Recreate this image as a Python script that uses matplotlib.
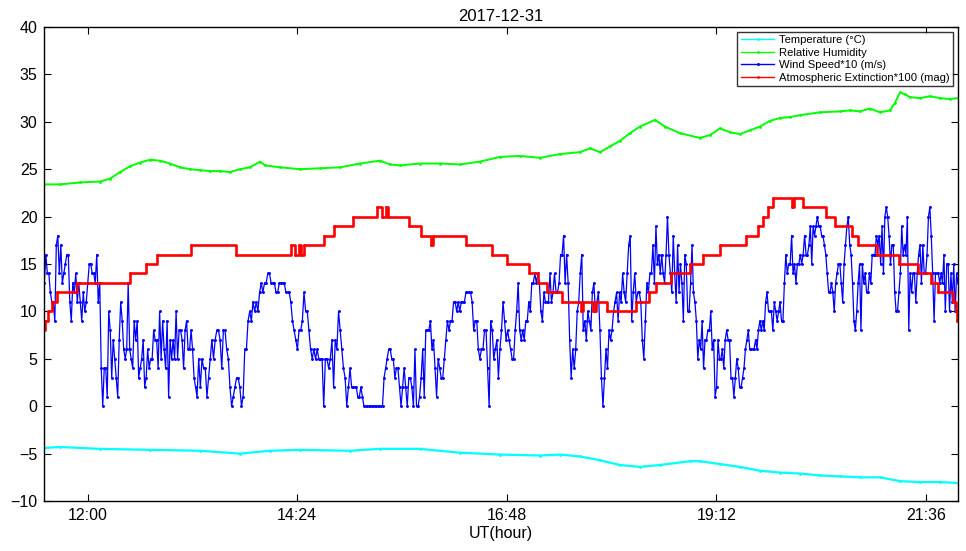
import numpy as np
import matplotlib
matplotlib.use("Agg")
import matplotlib.pyplot as plt
from matplotlib.ticker import FixedLocator, FuncFormatter

plt.rcParams['font.family'] = ['Liberation Sans', 'DejaVu Sans']

# time axis in decimal UT hours
x_start, x_end = 11.505, 21.968
tick_hours = [12.0, 14.4, 16.8, 19.2, 21.6]

# temperature (deg C)
temp_hours = [11.505, 11.685, 12.143, 12.715, 13.288, 13.746, 14.089, 14.433, 15.006,
              15.349, 15.807, 16.265, 16.723, 17.181, 17.410, 17.639, 17.868, 18.097,
              18.326, 18.555, 18.899, 19.013, 19.242, 19.471, 19.700, 19.929, 20.158,
              20.387, 20.616, 20.845, 21.074, 21.303, 21.532, 21.761, 21.968]
temp_values = [-4.4, -4.3, -4.5, -4.6, -4.7, -5.0, -4.7, -4.6, -4.7,
               -4.5, -4.5, -4.9, -5.1, -5.2, -5.1, -5.3, -5.7, -6.2,
               -6.4, -6.2, -5.8, -5.8, -6.1, -6.4, -6.8, -7.0, -7.1,
               -7.3, -7.4, -7.5, -7.5, -7.9, -8.0, -8.0, -8.1]

# relative humidity (%)
hum_hours = [11.505, 11.685, 11.914, 12.143, 12.257, 12.372, 12.486, 12.601, 12.715,
             12.830, 12.944, 13.059, 13.173, 13.288, 13.402, 13.517, 13.631, 13.746,
             13.860, 13.975, 14.032, 14.204, 14.433, 14.662, 14.891, 15.120, 15.349,
             15.463, 15.578, 15.807, 16.036, 16.265, 16.494, 16.723, 16.952, 17.181,
             17.410, 17.639, 17.754, 17.868, 17.983, 18.097, 18.212, 18.326, 18.498,
             18.612, 18.784, 19.013, 19.127, 19.242, 19.356, 19.471, 19.585, 19.700,
             19.815, 19.929, 20.044, 20.158, 20.387, 20.616, 20.731, 20.845, 20.960,
             21.074, 21.189, 21.246, 21.303, 21.361, 21.418, 21.532, 21.647, 21.761,
             21.876, 21.968]
hum_values = [23.4, 23.4, 23.6, 23.7, 24.0, 24.7, 25.3, 25.7, 26.0,
              25.9, 25.6, 25.2, 25.0, 24.9, 24.8, 24.8, 24.7, 25.0,
              25.2, 25.8, 25.4, 25.2, 25.0, 25.1, 25.2, 25.6, 25.9,
              25.5, 25.4, 25.6, 25.6, 25.5, 25.8, 26.3, 26.4, 26.2,
              26.6, 26.8, 27.2, 26.8, 27.4, 28.0, 28.8, 29.5, 30.2,
              29.5, 28.8, 28.3, 28.6, 29.3, 28.9, 28.7, 29.1, 29.5,
              30.1, 30.4, 30.5, 30.7, 31.0, 31.1, 31.2, 31.1, 31.4,
              31.0, 31.2, 32.0, 33.1, 32.9, 32.6, 32.5, 32.7, 32.5,
              32.4, 32.5]

# wind speed *10 (m/s), logged in six blocks between these times
wind_block_edges = [11.505, 13.254, 15.006, 16.758, 18.509, 20.261, 21.968]
wind_block1 = [13, 16, 14, 14, 12, 11, 11, 9, 17, 18, 14, 17, 13, 14, 15, 16, 16, 11, 9, 13,
               12, 14, 11, 13, 11, 9, 12, 10, 11, 13, 15, 15, 14, 14, 13, 16, 11, 13, 4, 0,
               4, 4, 1, 10, 8, 3, 7, 5, 3, 1, 7, 11, 9, 6, 5, 6, 13, 6, 5, 4,
               9, 7, 9, 3, 4, 5, 7, 2, 3, 6, 4, 5, 5, 8, 7, 7, 4, 10, 5, 9,
               6, 4, 9, 1, 7, 5, 7, 5, 10, 5, 8, 8, 7, 4, 8, 9, 6, 6, 8, 6,
               3, 2, 1]
wind_block2 = [5, 2, 5, 4, 4, 1, 3, 5, 7, 5, 7, 8, 8, 7, 4, 8, 8, 6, 5, 2,
               0, 1, 2, 3, 3, 2, 0, 1, 6, 6, 9, 10, 9, 11, 10, 11, 10, 12, 13, 12,
               13, 13, 14, 14, 13, 13, 13, 12, 12, 13, 13, 13, 13, 12, 12, 12, 11, 9, 8, 7,
               6, 8, 8, 9, 12, 10, 10, 8, 6, 5, 6, 5, 6, 5, 5, 5, 0, 5, 5, 4,
               5, 7, 2, 7, 6, 10, 8, 6, 4, 3, 0, 2, 4]
wind_block3 = [2, 2, 2, 2, 1, 1, 2, 1, 0, 0, 0, 0, 0, 0, 0, 0, 0, 0, 0, 0,
               0, 3, 4, 5, 6, 6, 5, 5, 3, 4, 4, 2, 0, 2, 4, 2, 0, 3, 3, 2,
               0, 6, 0, 0, 1, 3, 6, 1, 8, 8, 8, 9, 6, 7, 4, 1, 5, 4, 3, 3,
               5, 7, 9, 8, 9, 9, 11, 11, 10, 11, 10, 11, 11, 11, 12, 12, 12, 12, 11, 8,
               9, 9, 6, 5, 6, 6, 8, 8, 4, 0, 9, 8, 5, 6, 7, 3, 6, 8, 11]
wind_block4 = [9, 7, 8, 7, 6, 5, 5, 8, 10, 13, 8, 7, 8, 7, 9, 9, 11, 10, 13, 13,
               14, 13, 14, 13, 10, 9, 12, 11, 11, 11, 14, 11, 12, 14, 12, 12, 13, 16, 16, 18,
               13, 16, 13, 7, 3, 6, 4, 6, 10, 11, 14, 16, 8, 9, 7, 10, 9, 8, 12, 13,
               10, 11, 12, 8, 3, 0, 3, 6, 4, 8, 7, 8, 10, 11, 12, 9, 12, 11, 14, 12,
               11, 14, 17, 18, 9, 12, 14, 11, 12, 12, 11, 7, 5, 9, 13, 12, 14, 14, 17, 13,
               19]
wind_block5 = [15, 16, 14, 16, 14, 13, 16, 20, 16, 14, 12, 18, 14, 11, 17, 12, 15, 13, 9, 16,
               15, 10, 10, 13, 17, 12, 11, 9, 5, 7, 6, 9, 4, 7, 7, 8, 8, 10, 6, 7,
               1, 2, 7, 5, 5, 6, 4, 7, 8, 7, 7, 3, 3, 1, 3, 5, 4, 2, 2, 3,
               4, 6, 7, 8, 6, 6, 6, 6, 7, 6, 8, 9, 8, 9, 8, 11, 12, 10, 10, 10,
               8, 11, 10, 9, 10, 11, 9, 9, 13, 16, 14, 15, 15, 18, 14, 15, 13, 15, 15, 16,
               15, 16, 18, 16, 16, 17]
wind_block6 = [19, 15, 19, 18, 19, 20, 19, 19, 18, 18, 17, 16, 14, 12, 12, 13, 12, 10, 13, 14,
               15, 15, 13, 11, 15, 17, 19, 20, 17, 16, 13, 9, 8, 10, 13, 15, 8, 15, 13, 14,
               12, 12, 14, 13, 16, 16, 16, 18, 17, 18, 15, 19, 14, 20, 21, 20, 18, 15, 17, 17,
               12, 10, 10, 12, 14, 19, 16, 17, 16, 20, 8, 14, 12, 14, 14, 11, 14, 16, 17, 13,
               17, 14, 14, 16, 20, 21, 18, 14, 9, 14, 14, 14, 13, 14, 13, 16, 10, 15, 15, 10,
               14, 11, 15, 10, 14, 13]

# atmospheric extinction *100 (mag), held until the next change
ext_hours = [11.505, 11.513, 11.547, 11.593, 11.650, 11.879, 12.486, 12.669, 12.795, 13.185,
             13.700, 14.330, 14.375, 14.421, 14.444, 14.479, 14.708, 14.822, 15.040, 15.315,
             15.372, 15.418, 15.441, 15.681, 15.819, 15.933, 15.956, 16.334, 16.632, 16.804,
             17.056, 17.159, 17.262, 17.433, 17.651, 17.674, 17.788, 17.823, 17.949, 18.281,
             18.430, 18.510, 18.682, 18.899, 19.048, 19.243, 19.540, 19.678, 19.735, 19.793,
             19.850, 20.068, 20.091, 20.194, 20.457, 20.560, 20.755, 20.824, 21.041, 21.293,
             21.511, 21.660, 21.740, 21.912, 21.947, 21.957, 21.968]
ext_values = [8, 9, 10, 11, 12, 13, 14, 15, 16, 17,
              16, 17, 16, 17, 16, 17, 18, 19, 20, 21,
              20, 21, 20, 19, 18, 17, 18, 17, 16, 15,
              14, 13, 12, 11, 10, 11, 10, 11, 10, 11,
              12, 13, 14, 15, 16, 17, 18, 19, 20, 21,
              22, 21, 22, 21, 20, 19, 18, 17, 16, 15,
              14, 13, 12, 11, 10, 9, 9]

# rebuild the wind time stamps block by block
wind_blocks = [wind_block1, wind_block2, wind_block3, wind_block4, wind_block5, wind_block6]
wind_hours, wind_values = [], []
for i, blk in enumerate(wind_blocks):
    t0, t1 = wind_block_edges[i], wind_block_edges[i + 1]
    if i == 0:
        t = np.linspace(t0, t1, len(blk))
    else:
        t = np.linspace(t0, t1, len(blk) + 1)[1:]
    wind_hours.extend(t)
    wind_values.extend(blk)

fig = plt.figure(figsize=(9.66, 5.51), dpi=100)
ax = fig.add_axes([0.0459, 0.0907, 0.9458, 0.8603])

ax.plot(temp_hours, temp_values, color='#00ffff', lw=1.6, marker='.', ms=2,
        label='Temperature (°C)')
ax.plot(hum_hours, hum_values, color='#00ff00', lw=1.4, marker='.', ms=2,
        label='Relative Humidity')
ax.plot(wind_hours, wind_values, color='#0000ff', lw=0.9, marker='.', ms=2.2,
        label='Wind Speed*10 (m/s)')
ax.plot(ext_hours, ext_values, color='#ff0000', lw=1.9, drawstyle='steps-post',
        marker='.', ms=2, label='Atmospheric Extinction*100 (mag)')

ax.set_xlim(x_start, x_end)
ax.set_ylim(-10, 40)
ax.set_yticks(np.arange(-10, 41, 5))
ax.xaxis.set_major_locator(FixedLocator(tick_hours))
ax.xaxis.set_major_formatter(FuncFormatter(
    lambda h, pos: '%02d:%02d' % (int(h), int(round((h - int(h)) * 60)))))

ax.tick_params(direction='in', length=5, width=0.8, top=True, right=True,
               labelsize=11.5, pad=5)
for sp in ax.spines.values():
    sp.set_linewidth(1.0)

ax.set_title('2017-12-31', fontsize=12, pad=4)
ax.set_xlabel('UT(hour)', fontsize=11.5, labelpad=2)

leg = ax.legend(loc='upper right', fontsize=8.1, frameon=True, fancybox=False,
                edgecolor='black', handlelength=3.0, borderaxespad=0.45,
                labelspacing=0.22, handletextpad=0.4, borderpad=0.3, numpoints=1)
leg.get_frame().set_linewidth(1.0)
for h in leg.get_lines():
    h.set_linewidth(1.0)

fig.savefig('out.png', dpi=100)
